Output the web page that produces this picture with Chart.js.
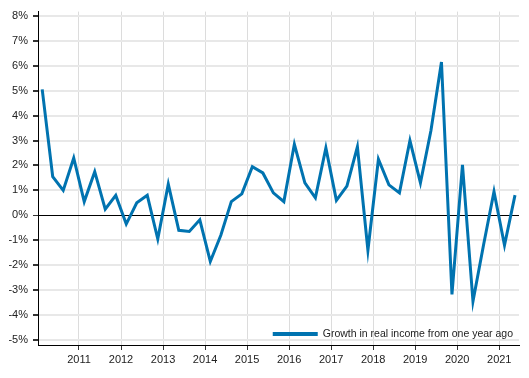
<!DOCTYPE html>
<html>
<head>
<meta charset="utf-8">
<script src="https://cdn.jsdelivr.net/npm/chart.js@4/dist/chart.umd.min.js"></script>
<style>
  html, body { margin: 0; padding: 0; background: #fff; }
  #wrap { width: 529px; height: 378px; }
</style>
</head>
<body>
<div id="wrap"><canvas id="chart"></canvas></div>
<script>
// quarterly figures, 2010Q1 - 2021Q2
const quarters = [
  '2010Q1','2010Q2','2010Q3','2010Q4',
  '2011Q1','2011Q2','2011Q3','2011Q4',
  '2012Q1','2012Q2','2012Q3','2012Q4',
  '2013Q1','2013Q2','2013Q3','2013Q4',
  '2014Q1','2014Q2','2014Q3','2014Q4',
  '2015Q1','2015Q2','2015Q3','2015Q4',
  '2016Q1','2016Q2','2016Q3','2016Q4',
  '2017Q1','2017Q2','2017Q3','2017Q4',
  '2018Q1','2018Q2','2018Q3','2018Q4',
  '2019Q1','2019Q2','2019Q3','2019Q4',
  '2020Q1','2020Q2','2020Q3','2020Q4',
  '2021Q1','2021Q2'
];
const growth = [
  5.05, 1.55, 1.0, 2.3,
  0.55, 1.75, 0.25, 0.8,
  -0.35, 0.5, 0.8, -0.95,
  1.25, -0.6, -0.65, -0.18,
  -1.85, -0.8, 0.55, 0.86,
  1.95, 1.7, 0.9, 0.55,
  2.85, 1.3, 0.7, 2.7,
  0.6, 1.17, 2.75, -1.4,
  2.25, 1.22, 0.9, 3.0,
  1.3, 3.4, 6.15, -3.17,
  2.02, -3.45, -1.2, 0.95,
  -1.2, 0.81
];
const yearTicks = [2011, 2012, 2013, 2014, 2015, 2016, 2017, 2018, 2019, 2020, 2021];
const pctTicks = [-5, -4, -3, -2, -1, 0, 1, 2, 3, 4, 5, 6, 7, 8];
const seriesLabel = 'Growth in real income from one year ago';
const lineColor = '#0073b0';

// place each quarter in the middle of its slot inside the year
function quarterPos(q) {
  const year = parseInt(q.slice(0, 4));
  const n = parseInt(q.slice(5));
  return year + (n - 0.5) / 4;
}
const points = quarters.map((q, i) => ({ x: quarterPos(q), y: growth[i] }));

const font = { family: 'Arial, "Liberation Sans", sans-serif', size: 11 };

const cornerLegend = {
  id: 'cornerLegend',
  afterDraw(chart) {
    const ctx = chart.ctx;
    const area = chart.chartArea;
    const ds = chart.data.datasets[0];
    ctx.save();
    ctx.font = '10.5px Arial, "Liberation Sans", sans-serif';
    const w = ctx.measureText(ds.label).width;
    const textX = area.right - 6 - w;
    const y = area.bottom - 11;
    ctx.strokeStyle = ds.borderColor;
    ctx.lineWidth = 4;
    ctx.beginPath();
    ctx.moveTo(textX - 50, y);
    ctx.lineTo(textX - 5, y);
    ctx.stroke();
    ctx.fillStyle = '#222';
    ctx.textBaseline = 'middle';
    ctx.fillText(ds.label, textX, y);
    ctx.restore();
  }
};

new Chart(document.getElementById('chart'), {
  type: 'line',
  data: {
    datasets: [{
      label: seriesLabel,
      data: points,
      borderColor: lineColor,
      borderWidth: 3,
      pointRadius: 0,
      tension: 0,
      fill: false
    }]
  },
  options: {
    responsive: true,
    maintainAspectRatio: false,
    animation: false,
    layout: { padding: { top: 10, right: 10, left: 0, bottom: 0 } },
    plugins: {
      legend: { display: false },
      tooltip: { enabled: false }
    },
    scales: {
      x: {
        type: 'linear',
        bounds: 'data',
        min: 2010.025,
        max: 2021.47,
        afterFit: s => { s.height = 33; },
        afterBuildTicks: s => { s.ticks = yearTicks.map(v => ({ value: v })); },
        border: { display: true, color: '#000', width: 1, z: 1 },
        grid: { color: '#dcdcdc', lineWidth: 1, tickLength: 5, tickColor: '#333' },
        ticks: {
          padding: 3,
          color: '#222',
          font: font,
          maxRotation: 0,
          autoSkip: false,
          callback: v => String(v)
        }
      },
      y: {
        bounds: 'data',
        min: -5.2,
        max: 8.17,
        afterFit: s => { s.width = 38; },
        afterBuildTicks: s => { s.ticks = pctTicks.map(v => ({ value: v })); },
        border: { display: true, color: '#000', width: 1, z: 1 },
        grid: {
          color: ctx => ctx.tick && ctx.tick.value === 0 ? '#000' : '#e8e8e8',
          lineWidth: ctx => ctx.tick && ctx.tick.value === 0 ? 1 : 2,
          tickLength: 5,
          tickColor: '#333'
        },
        ticks: {
          padding: 5,
          color: '#222',
          font: font,
          autoSkip: false,
          callback: v => v + '%'
        }
      }
    }
  },
  plugins: [cornerLegend]
});
</script>
</body>
</html>
